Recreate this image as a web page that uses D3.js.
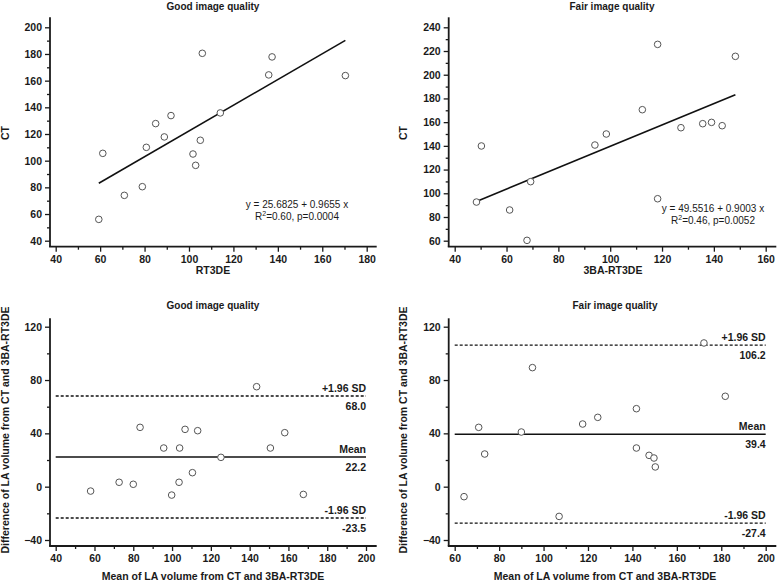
<!DOCTYPE html>
<html>
<head>
<meta charset="utf-8">
<script src="https://cdn.jsdelivr.net/npm/d3@7"></script>
<style>
  html, body { margin: 0; padding: 0; background: #fff; }
  svg { display: block; }
  text { font-family: "Liberation Sans", Arial, sans-serif; fill: #1a1a1a; }
</style>
</head>
<body>
<svg id="chart" width="778" height="583"></svg>
<script>
// ---------- DATA ----------
// Top-left: Good image quality, RT3DE vs CT
const goodRT3DE = [59.4, 61.2, 70.9, 79.0, 80.8, 85.0, 88.9, 91.9, 101.8, 103.0, 105.1, 106.0, 114.1, 135.9, 137.4, 170.4];
const goodCT    = [56.0, 105.5, 74.0, 80.5, 110.0, 127.8, 117.8, 133.8, 105.0, 96.5, 115.3, 180.5, 135.8, 164.3, 177.8, 163.8];
const goodFit   = [25.6825, 0.9655];
const goodFitText = ["y = 25.6825 + 0.9655 x", "0.60", "0.0004"];

// Top-right: Fair image quality, 3BA-RT3DE vs CT
const fairRT3DE = [48.4, 50.3, 61.2, 67.9, 69.3, 94.1, 98.5, 112.4, 118.3, 118.3, 127.3, 135.7, 139.1, 143.2, 148.3];
const fairCT    = [92.6, 139.9, 85.9, 60.3, 109.8, 140.7, 150.0, 170.5, 225.6, 95.4, 155.3, 158.7, 159.8, 157.0, 215.5];
const fairFit   = [49.5516, 0.9003];
const fairFitText = ["y = 49.5516 + 0.9003 x", "0.46", "0.0052"];

// Bottom-left: Bland-Altman, good image quality
const goodBAMean = [58.0, 72.7, 80.0, 83.5, 95.7, 99.8, 103.6, 103.9, 106.7, 110.5, 113.2, 125.2, 143.6, 150.7, 158.1, 167.7];
const goodBADiff = [-3.3, 3.3, 1.8, 44.5, 29.0, -6.3, 3.3, 29.0, 43.0, 10.5, 42.0, 22.0, 75.0, 29.0, 40.5, -5.8];
const goodBALimits = [68.0, 22.2, -23.5];   // +1.96 SD, mean, -1.96 SD

// Bottom-right: Bland-Altman, fair image quality
const fairBAMean = [64.2, 70.8, 73.5, 90.0, 95.0, 107.0, 117.6, 124.4, 141.8, 141.8, 147.5, 149.7, 150.3, 172.2, 181.8];
const fairBADiff = [-7.5, 44.5, 24.5, 41.0, 89.3, -22.3, 47.0, 52.0, 58.5, 29.0, 23.5, 21.5, 14.8, 107.8, 67.8];
const fairBALimits = [106.2, 39.4, -27.4];

const limitLabels = ["+1.96 SD", "Mean", "-1.96 SD"];

// Ticks
const tl_xTicks = [40, 60, 80, 100, 120, 140, 160, 180];
const tl_yTicks = [40, 60, 80, 100, 120, 140, 160, 180, 200];
const tr_xTicks = [40, 60, 80, 100, 120, 140, 160];
const tr_yTicks = [60, 80, 100, 120, 140, 160, 180, 200, 220, 240];
const bl_xTicks = [40, 60, 80, 100, 120, 140, 160, 180, 200];
const br_xTicks = [60, 80, 100, 120, 140, 160, 180, 200];
const ba_yTicks = [-40, 0, 40, 80, 120];

// ---------- DRAW ----------
const svg = d3.select("#chart");

function panel(cfg) {
  const g = svg.append("g");
  const x = d3.scaleLinear().domain(cfg.xDom).range(cfg.xRange);
  const y = d3.scaleLinear().domain(cfg.yDom).range(cfg.yRange);
  const [L, R, T, B] = cfg.box;

  // minor ticks
  const xMinor = d3.range(cfg.xDom[0], cfg.xDom[1] + 0.001, cfg.xMinor).filter(v => !cfg.xTicks.includes(v));
  const yMinor = d3.range(cfg.yDom[0], cfg.yDom[1] + 0.001, cfg.yMinor).filter(v => !cfg.yTicks.includes(v));

  const xAxisMinor = d3.axisBottom(x).tickValues(xMinor).tickSize(3).tickFormat("");
  const yAxisMinor = d3.axisLeft(y).tickValues(yMinor).tickSize(3).tickFormat("");
  const xAxis = d3.axisBottom(x).tickValues(cfg.xTicks).tickSize(5).tickPadding(4).tickFormat(d3.format("d"));
  const yAxis = d3.axisLeft(y).tickValues(cfg.yTicks).tickSize(5).tickPadding(3).tickFormat(d3.format("d"));

  [[xAxisMinor, "x"], [xAxis, "x"]].forEach(([ax]) => {
    g.append("g").attr("transform", `translate(0,${B})`).call(ax)
      .call(s => s.select(".domain").remove());
  });
  [[yAxisMinor], [yAxis]].forEach(([ax]) => {
    g.append("g").attr("transform", `translate(${L},0)`).call(ax)
      .call(s => s.select(".domain").remove());
  });
  g.selectAll(".tick line").attr("stroke", "#1a1a1a").attr("stroke-width", 1.3);
  g.selectAll(".tick text")
    .style("font-family", '"Liberation Sans", Arial, sans-serif')
    .style("font-size", "10.5px").style("font-weight", "bold").attr("fill", "#1a1a1a");

  // axis lines
  g.append("line").attr("x1", L).attr("x2", L).attr("y1", T).attr("y2", B)
    .attr("stroke", "#1a1a1a").attr("stroke-width", 1.8);
  g.append("line").attr("x1", L - 0.9).attr("x2", R).attr("y1", B).attr("y2", B)
    .attr("stroke", "#1a1a1a").attr("stroke-width", 1.8);

  // title
  g.append("text").attr("x", cfg.titleX).attr("y", cfg.titleY).attr("text-anchor", "middle")
    .style("font-size", "10px").style("font-weight", "bold").text(cfg.title);
  // x label
  g.append("text").attr("x", cfg.xLabX).attr("y", cfg.xLabY).attr("text-anchor", "middle")
    .style("font-size", "10.5px").style("font-weight", "bold").text(cfg.xLabel);
  // y label
  g.append("text").attr("transform", `translate(${cfg.yLabX},${cfg.yLabY}) rotate(-90)`)
    .attr("text-anchor", "middle")
    .style("font-size", "10.5px").style("font-weight", "bold").text(cfg.yLabel);

  // regression line
  if (cfg.fit) {
    const x0 = d3.min(cfg.xs), x1 = d3.max(cfg.xs);
    const line = d3.line().x(d => x(d)).y(d => y(cfg.fit[0] + cfg.fit[1] * d));
    g.append("path").attr("d", line([x0, x1])).attr("fill", "none")
      .attr("stroke", "#111").attr("stroke-width", 1.6);
    const t = g.append("text").attr("x", cfg.eqX).attr("y", cfg.eqY).attr("text-anchor", "middle")
      .style("font-size", "10px");
    t.text(cfg.fitText[0]);
    const t2 = g.append("text").attr("x", cfg.eqX).attr("y", cfg.eqY + 12).attr("text-anchor", "middle")
      .style("font-size", "10px");
    t2.append("tspan").text("R");
    t2.append("tspan").attr("dy", -4).style("font-size", "7px").text("2");
    t2.append("tspan").attr("dy", 4).text(`=${cfg.fitText[1]}, p=${cfg.fitText[2]}`);
  }

  // Bland-Altman lines
  if (cfg.limits) {
    cfg.limits.forEach((v, i) => {
      g.append("line").attr("x1", x(cfg.xDom[0])).attr("x2", x(cfg.xDom[1]))
        .attr("y1", y(v)).attr("y2", y(v))
        .attr("stroke", "#111").attr("stroke-width", i === 1 ? 1.5 : 1.3)
        .attr("stroke-dasharray", i === 1 ? null : "3,2");
      g.append("text").attr("x", x(cfg.xDom[1])).attr("y", y(v) - 4).attr("text-anchor", "end")
        .style("font-size", "10.5px").style("font-weight", "bold").text(limitLabels[i]);
      g.append("text").attr("x", x(cfg.xDom[1])).attr("y", y(v) + 14).attr("text-anchor", "end")
        .style("font-size", "10.5px").style("font-weight", "bold").text(v.toFixed(1));
    });
  }

  // points
  g.selectAll("circle.pt").data(cfg.xs.map((d, i) => [d, cfg.ys[i]])).enter()
    .append("circle").attr("class", "pt")
    .attr("cx", d => x(d[0])).attr("cy", d => y(d[1])).attr("r", 3.3)
    .attr("fill", "#fff").attr("stroke", "#555").attr("stroke-width", 1);
}

// Top-left
panel({
  xs: goodRT3DE, ys: goodCT, fit: goodFit, fitText: goodFitText,
  xDom: [40, 180], xRange: [55.7, 366.7], yDom: [40, 200], yRange: [240.7, 27.3],
  xTicks: tl_xTicks, yTicks: tl_yTicks, xMinor: 10, yMinor: 10,
  box: [50, 376.7, 17.3, 246.7],
  title: "Good image quality", titleX: 213, titleY: 10,
  xLabel: "RT3DE", xLabX: 213, xLabY: 274,
  yLabel: "CT", yLabX: 9, yLabY: 133,
  eqX: 297, eqY: 208
});

// Top-right
panel({
  xs: fairRT3DE, ys: fairCT, fit: fairFit, fitText: fairFitText,
  xDom: [40, 160], xRange: [454.7, 765.7], yDom: [60, 240], yRange: [240.7, 27.3],
  xTicks: tr_xTicks, yTicks: tr_yTicks, xMinor: 10, yMinor: 10,
  box: [448.7, 776.3, 17.3, 246.7],
  title: "Fair image quality", titleX: 612, titleY: 10,
  xLabel: "3BA-RT3DE", xLabX: 613, xLabY: 274,
  yLabel: "CT", yLabX: 407, yLabY: 133,
  eqX: 713, eqY: 212
});

// Bottom-left
panel({
  xs: goodBAMean, ys: goodBADiff, limits: goodBALimits,
  xDom: [40, 200], xRange: [55.7, 366], yDom: [-40, 120], yRange: [540, 326.7],
  xTicks: bl_xTicks, yTicks: ba_yTicks, xMinor: 10, yMinor: 20,
  box: [50, 376.7, 318.3, 546],
  title: "Good image quality", titleX: 213, titleY: 309,
  xLabel: "Mean of LA volume from CT and 3BA-RT3DE", xLabX: 213, xLabY: 580,
  yLabel: "Difference of LA volume from CT and 3BA-RT3DE", yLabX: 9, yLabY: 430
});

// Bottom-right
panel({
  xs: fairBAMean, ys: fairBADiff, limits: fairBALimits,
  xDom: [60, 200], xRange: [454.7, 765.7], yDom: [-40, 120], yRange: [540, 326.7],
  xTicks: br_xTicks, yTicks: ba_yTicks, xMinor: 10, yMinor: 20,
  box: [448.7, 776.3, 318.3, 546],
  title: "Fair image quality", titleX: 615, titleY: 309,
  xLabel: "Mean of LA volume from CT and 3BA-RT3DE", xLabX: 605, xLabY: 580,
  yLabel: "Difference of LA volume from CT and 3BA-RT3DE", yLabX: 407, yLabY: 430
});
</script>
</body>
</html>
